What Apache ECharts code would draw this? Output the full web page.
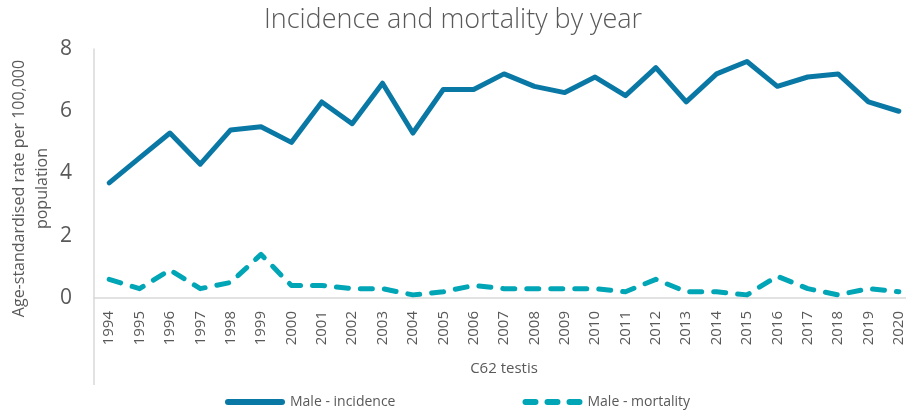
<!DOCTYPE html>
<html>
<head>
<meta charset="utf-8">
<script src="https://cdn.jsdelivr.net/npm/echarts@6/dist/echarts.min.js"></script>
<style>
  html, body { margin: 0; padding: 0; background: #fff; }
  #main { width: 906px; height: 412px; }
</style>
</head>
<body>
<div id="main"></div>
<script>
// data
var years = ['1994','1995','1996','1997','1998','1999','2000','2001','2002','2003','2004','2005','2006','2007',
  '2008','2009','2010','2011','2012','2013','2014','2015','2016','2017','2018','2019','2020'];
var incidence = [3.7,4.5,5.3,4.3,5.4,5.5,5.0,6.3,5.6,6.9,5.3,6.7,6.7,7.2,6.8,6.6,7.1,6.5,7.4,6.3,7.2,7.6,6.8,7.1,7.2,6.3,6.0];
var mortality = [0.6,0.3,0.9,0.3,0.5,1.4,0.4,0.4,0.3,0.3,0.1,0.2,0.4,0.3,0.3,0.3,0.3,0.2,0.6,0.2,0.2,0.1,0.7,0.3,0.1,0.3,0.2];
var yTicks = [0, 2, 4, 6, 8];

var chart = echarts.init(document.getElementById('main'));

var txt = '#595959';
var font = '"Open Sans", "Noto Sans", sans-serif';
var incColor = '#0a78a5';
var morColor = '#00a5b6';

var option = {
  animation: false,
  title: {
    text: 'Incidence and mortality by year',
    left: 'center',
    top: 2,
    textStyle: { fontFamily: font, fontSize: 27, fontWeight: 300, color: txt }
  },
  legend: {
    orient: 'horizontal',
    top: 390,
    left: 220,
    itemGap: 127,
    itemWidth: 60,
    itemHeight: 7,
    textStyle: { fontFamily: font, fontSize: 14, color: txt },
    data: [
      { name: 'Male - incidence', icon: 'path://M3,0 L57,0 A3,3 0 0 1 57,6 L3,6 A3,3 0 0 1 3,0 Z' },
      { name: 'Male - mortality', icon: 'path://M3,0 L13,0 A3,3 0 0 1 13,6 L3,6 A3,3 0 0 1 3,0 Z M25,0 L35,0 A3,3 0 0 1 35,6 L25,6 A3,3 0 0 1 25,0 Z M47,0 L57,0 A3,3 0 0 1 57,6 L47,6 A3,3 0 0 1 47,0 Z' }
    ]
  },
  grid: {
    left: 94,
    top: 49,
    width: 820,
    height: 249,
    outerBoundsMode: 'none',
    containLabel: false
  },
  xAxis: {
    type: 'category',
    data: years,
    boundaryGap: true,
    name: 'C62 testis',
    nameLocation: 'middle',
    nameGap: 63,
    nameMoveOverlap: false,
    nameTextStyle: { fontFamily: font, fontSize: 15, color: txt },
    axisLine: { lineStyle: { color: '#d9d9d9', width: 1.5 } },
    axisTick: {
      show: true,
      length: 87,
      interval: function (i) { return i === 0; },
      lineStyle: { color: '#d9d9d9', width: 1.5 }
    },
    axisLabel: {
      rotate: 90,
      interval: 0,
      margin: 13,
      fontFamily: font,
      fontSize: 15,
      color: txt
    }
  },
  yAxis: {
    type: 'value',
    min: yTicks[0],
    max: yTicks[yTicks.length - 1],
    interval: 2,
    name: 'Age-standardised rate per 100,000\npopulation',
    nameLocation: 'middle',
    nameGap: 40,
    nameMoveOverlap: false,
    nameTextStyle: { fontFamily: font, fontSize: 16, color: txt, lineHeight: 23, padding: [0, 30, 0, 0] },
    axisLine: { show: true, lineStyle: { color: '#d9d9d9', width: 1.5 } },
    axisTick: { show: false },
    splitLine: { show: false },
    axisLabel: { fontFamily: font, fontSize: 21, color: txt, margin: 22 }
  },
  series: [
    {
      name: 'Male - incidence',
      type: 'line',
      data: incidence,
      symbol: 'none',
      color: incColor,
      lineStyle: { width: 5, color: incColor, cap: 'round', join: 'round' }
    },
    {
      name: 'Male - mortality',
      type: 'line',
      data: mortality,
      symbol: 'none',
      color: morColor,
      lineStyle: { width: 5, color: morColor, type: [12, 12], cap: 'round', join: 'round' }
    }
  ]
};

chart.setOption(option);
</script>
</body>
</html>
